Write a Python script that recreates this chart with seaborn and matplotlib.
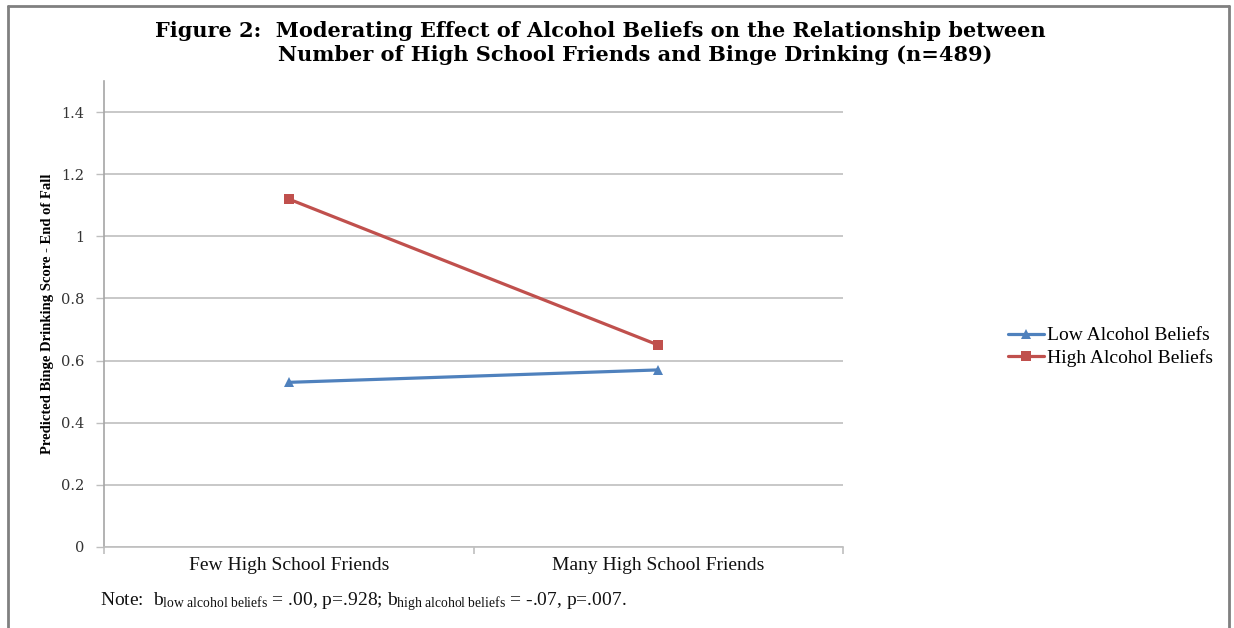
import matplotlib
matplotlib.use("Agg")
import matplotlib.pyplot as plt
import seaborn as sns
import pandas as pd
from matplotlib.lines import Line2D

categories = ["Few High School Friends", "Many High School Friends"]
series_names = ["Low Alcohol Beliefs", "High Alcohol Beliefs"]
low_values = [0.53, 0.57]
high_values = [1.12, 0.65]
y_ticks = [0, 0.2, 0.4, 0.6, 0.8, 1.0, 1.2, 1.4]
y_tick_labels = ["0", "0.2", "0.4", "0.6", "0.8", "1", "1.2", "1.4"]

df = pd.DataFrame({
    "cat": categories * 2,
    "x": [0, 1, 0, 1],
    "value": low_values + high_values,
    "series": [series_names[0]] * 2 + [series_names[1]] * 2,
})

sns.set_theme(style="white")
plt.rcParams["font.family"] = ["Liberation Serif", "DejaVu Serif"]
plt.rcParams["text.color"] = "black"
plt.rcParams["mathtext.fontset"] = "custom"
plt.rcParams["mathtext.rm"] = "Liberation Serif"
plt.rcParams["mathtext.it"] = "Liberation Serif:italic"
plt.rcParams["mathtext.bf"] = "Liberation Serif:bold"

fig = plt.figure(figsize=(12.34, 6.28), dpi=100)
ax = fig.add_axes([104 / 1234, 1 - 547 / 628, (843 - 104) / 1234, (547 - 81) / 628])

palette = {series_names[0]: "#4F81BD", series_names[1]: "#C0504D"}
markers = {series_names[0]: "^", series_names[1]: "s"}
sns.lineplot(data=df, x="x", y="value", hue="series", style="series",
             palette=palette, markers=markers, dashes=False, linewidth=2.3,
             markersize=7, markeredgewidth=0, ax=ax, legend=False)

ax.set_xlim(-0.5, 1.5)
ax.set_ylim(0, 1.5)
ax.set_yticks(y_ticks)
ax.set_yticklabels(y_tick_labels)
for lbl in ax.get_yticklabels():
    lbl.set_fontfamily("DejaVu Serif")
    lbl.set_fontsize(10.5)
    lbl.set_color("#333333")
ax.yaxis.grid(True, color="#BFBFBF", linewidth=1.2)
ax.set_axisbelow(True)

ax.set_xticks([-0.5, 0.5, 1.5])
ax.set_xticklabels([])
ax.set_xticks([0, 1], minor=True)
ax.set_xticklabels(categories, minor=True, fontsize=14, color="#111111")
ax.tick_params(axis="x", which="minor", length=0, pad=7)
ax.tick_params(axis="x", which="major", length=5, width=1.2, color="#BFBFBF", direction="out", bottom=True)
ax.tick_params(axis="y", length=6, width=1.0, color="#BFBFBF", direction="out", left=True, pad=8)

for s in ["top", "right"]:
    ax.spines[s].set_visible(False)
ax.spines["left"].set_color("#A6A6A6")
ax.spines["left"].set_linewidth(1.2)
ax.spines["bottom"].set_color("#BFBFBF")
ax.spines["bottom"].set_linewidth(1.2)
ax.set_xlabel("")
ax.set_ylabel("Predicted Binge Drinking Score - End of Fall", fontsize=10.5,
              fontweight="bold", labelpad=5, color="black")

handles = [Line2D([0], [0], color=palette[n], marker=markers[n], linewidth=2.3,
                  markersize=7, markeredgewidth=0) for n in series_names]
fig.legend(handles, series_names, loc="center left", bbox_to_anchor=(990 / 1234, 1 - 347 / 628),
           frameon=False, fontsize=14, handlelength=1.9, handletextpad=0.15, labelspacing=0.25)

fig.text(155 / 1234, 1 - 31 / 628,
         "Figure 2:  Moderating Effect of Alcohol Beliefs on the Relationship between",
         fontsize=15, fontweight="bold", va="center", ha="left", fontfamily="DejaVu Serif", color="black")
fig.text(278 / 1234, 1 - 55 / 628,
         "Number of High School Friends and Binge Drinking (n=489)",
         fontsize=15, fontweight="bold", va="center", ha="left", fontfamily="DejaVu Serif", color="black")

fig.text(100 / 1234, 1 - 602 / 628,
         r"Note:  b$_{\mathrm{low\ alcohol\ beliefs}}$ = .00, p=.928; b$_{\mathrm{high\ alcohol\ beliefs}}$ = -.07, p=.007.",
         fontsize=14, va="center", ha="left", color="#111111")

# outer frame
fig.add_artist(Line2D([8 / 1234, 8 / 1234], [0, 1 - 6 / 628], color="#808080", linewidth=2, transform=fig.transFigure))
fig.add_artist(Line2D([8 / 1234, 1229 / 1234], [1 - 6 / 628, 1 - 6 / 628], color="#808080", linewidth=2, transform=fig.transFigure))
fig.add_artist(Line2D([1229 / 1234, 1229 / 1234], [0, 1 - 6 / 628], color="#808080", linewidth=2, transform=fig.transFigure))

fig.savefig("out.png", dpi=100)
